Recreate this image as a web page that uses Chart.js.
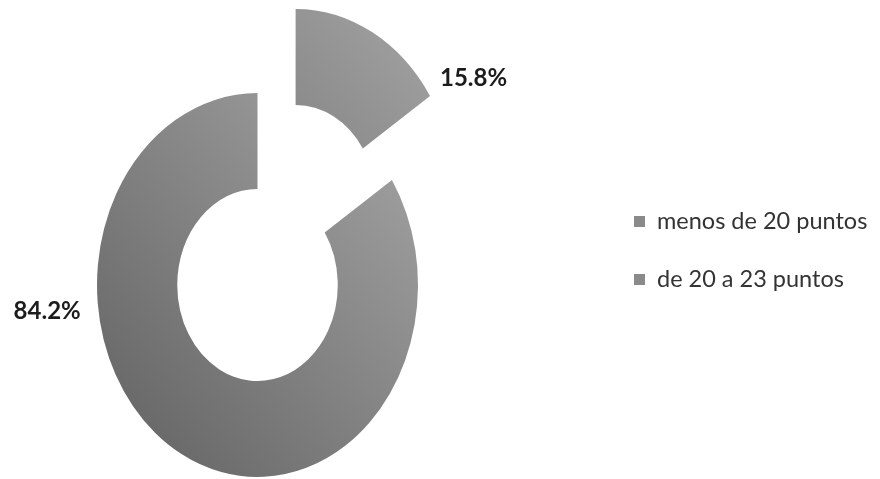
<!DOCTYPE html>
<html>
<head>
<meta charset="utf-8">
<script src="https://cdn.jsdelivr.net/npm/chart.js@4.4.1/dist/chart.umd.min.js"></script>
<style>
    html, body { margin: 0; padding: 0; background: #ffffff; }
    #contenedor { width: 880px; height: 479px; }
</style>
</head>
<body>
<div id="contenedor"><canvas id="chart" width="880" height="479"></canvas></div>
<script>
// Datos del gráfico
const categorias = ["menos de 20 puntos", "de 20 a 23 puntos"];
const porcentajes = [15.8, 84.2];

// Aspecto del anillo
const ESCALA_Y = 1.196;       // el anillo se dibuja ovalado
const RADIO = 160.5;
const SEPARACION = [80, 0];   // desplazamiento de cada porción hacia fuera
const ETIQUETAS = [
    { ang: 60, dist: 45 },
    { ang: 264, dist: 51 }
];

// Degradado gris de abajo-izquierda a arriba-derecha
function degradado(context) {
    const chart = context.chart;
    const area = chart.chartArea;
    if (!area) return "#888888";
    const cx = (area.left + area.right) / 2;
    const cy = (area.top + area.bottom) / 2;
    const g = chart.ctx.createLinearGradient(cx - RADIO, cy + RADIO, cx + RADIO, cy - RADIO);
    g.addColorStop(0, "#606060");
    g.addColorStop(1, "#a6a6a6");
    return g;
}

// Dibuja las porciones ovaladas y separadas, luego etiquetas y leyenda
const anilloOvalado = {
    id: "anilloOvalado",
    beforeDatasetsDraw(chart) {
        const ctx = chart.ctx;
        const meta = chart.getDatasetMeta(0);
        meta.data.forEach((arc, i) => {
            const medio = (arc.startAngle + arc.endAngle) / 2;
            const e = SEPARACION[i] || 0;
            ctx.save();
            ctx.translate(arc.x, arc.y);
            ctx.scale(1, ESCALA_Y);
            ctx.translate(Math.cos(medio) * e, Math.sin(medio) * e);
            ctx.translate(-arc.x, -arc.y);
            arc.draw(ctx);
            ctx.restore();
        });
        return false;
    },
    afterDraw(chart) {
        const ctx = chart.ctx;
        const meta = chart.getDatasetMeta(0);
        const total = porcentajes.reduce((a, b) => a + b, 0);

        // porcentajes junto a cada porción
        ctx.save();
        ctx.font = "bold 24px Lato";
        ctx.fillStyle = "#1c1c1c";
        ctx.textAlign = "center";
        ctx.textBaseline = "middle";
        meta.data.forEach((arc, i) => {
            const medio = (arc.startAngle + arc.endAngle) / 2;
            const e = SEPARACION[i] || 0;
            const a = ETIQUETAS[i].ang * Math.PI / 180 - Math.PI / 2;
            const r = arc.outerRadius + ETIQUETAS[i].dist;
            const px = Math.cos(medio) * e + Math.cos(a) * r;
            const py = Math.sin(medio) * e + Math.sin(a) * r;
            const texto = (porcentajes[i] / total * 100).toFixed(1) + "%";
            ctx.fillText(texto, arc.x + px, arc.y + py * ESCALA_Y);
        });
        ctx.restore();

        // leyenda a la derecha
        ctx.save();
        ctx.font = "23.5px Lato";
        ctx.textBaseline = "middle";
        ctx.textAlign = "left";
        categorias.forEach((c, i) => {
            const y = 221 + i * 58;
            ctx.fillStyle = "#8a8a8a";
            ctx.fillRect(634, y - 5, 11, 11);
            ctx.fillStyle = "#333333";
            ctx.fillText(c, 657, y);
        });
        ctx.restore();
    }
};

const chart = new Chart(document.getElementById("chart"), {
    type: "doughnut",
    data: {
        labels: categorias,
        datasets: [{
            data: porcentajes,
            backgroundColor: degradado,
            borderWidth: 0,
            clip: false
        }]
    },
    options: {
        responsive: false,
        animation: false,
        radius: RADIO,
        cutout: "50%",
        layout: { padding: { left: 0, right: 365, top: 91, bottom: 0 } },
        plugins: {
            legend: { display: false },
            tooltip: { enabled: false }
        }
    },
    plugins: [anilloOvalado]
});
</script>
</body>
</html>
